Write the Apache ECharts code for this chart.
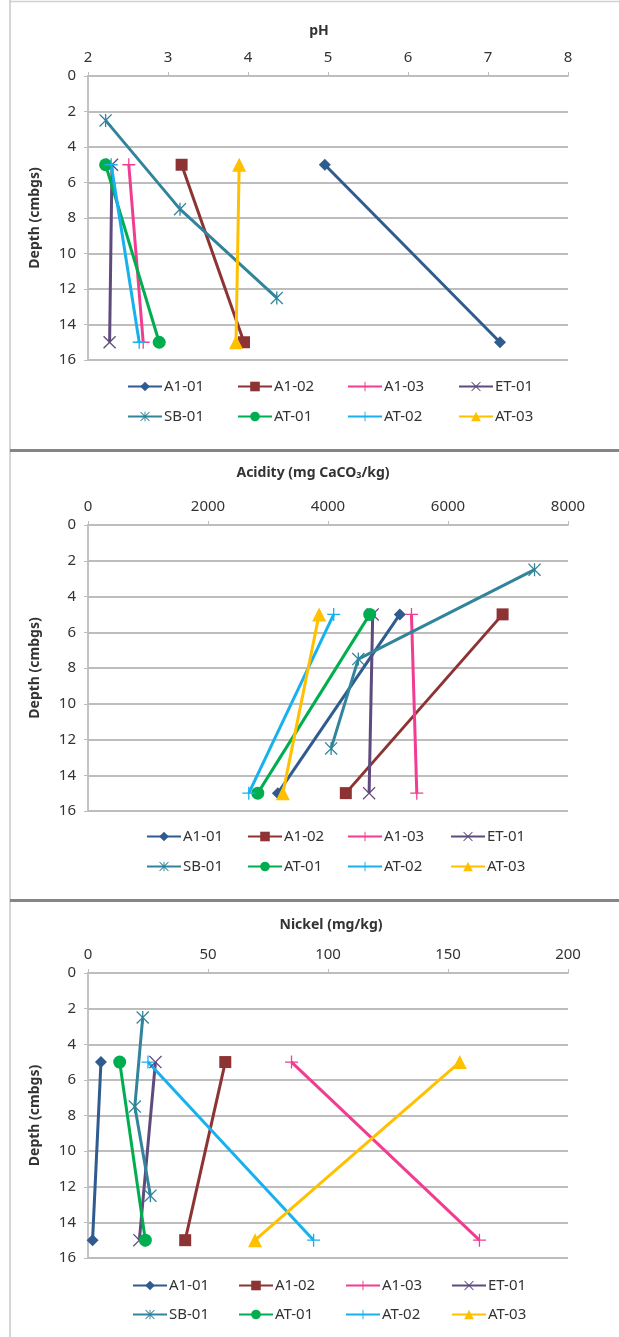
<!DOCTYPE html>
<html>
<head>
<meta charset="utf-8">
<script src="https://cdn.jsdelivr.net/npm/echarts@6/dist/echarts.min.js"></script>
<style>
html,body{margin:0;padding:0;background:#fff;}
#c{width:619px;height:1337px;}
</style>
</head>
<body>
<div id="c"></div>
<script>
// ---- data ----
const seriesNames = ['A1-01','A1-02','A1-03','ET-01','SB-01','AT-01','AT-02','AT-03'];
const depthMain = [5, 15];
const depthSB = [2.5, 7.5, 12.5];
const depthTicks = [0, 2, 4, 6, 8, 10, 12, 14, 16];

// pH values (per series, by depth)
const phValues = [
  [4.96, 7.15],
  [3.17, 3.95],
  [2.51, 2.69],
  [2.30, 2.27],
  [2.22, 3.15, 4.36],
  [2.22, 2.89],
  [2.29, 2.64],
  [3.89, 3.85]
];
// Acidity (mg CaCO3/kg)
const acidityValues = [
  [5197, 3165],
  [6910, 4297],
  [5391, 5480],
  [4745, 4685],
  [7442, 4505, 4052],
  [4695, 2830],
  [4095, 2680],
  [3852, 3248]
];
// Nickel (mg/kg)
const nickelValues = [
  [5.4, 1.9],
  [57.2, 40.5],
  [84.8, 163.1],
  [28.1, 21.4],
  [22.8, 19.5, 26.0],
  [13.2, 23.9],
  [25.0, 94.0],
  [154.9, 69.6]
];

const phTicks = [2, 3, 4, 5, 6, 7, 8];
const acidityTicks = [0, 2000, 4000, 6000, 8000];
const nickelTicks = [0, 50, 100, 150, 200];

const panelTitles = ['pH', 'Acidity (mg CaCO{sub|3}/kg)', 'Nickel (mg/kg)'];
const depthName = 'Depth (cmbgs)';

// ---- styles ----
const colors = ['#2F5B8F','#8E3333','#F23C92','#5F4A7D','#31849B','#00AE4F','#16B1EE','#FFC000'];
const P = 'path://';
const plusPath = P + 'M9,0h2v9h9v2h-9v9h-2v-9h-9v-2h9z';
const xPath = P + 'M1.4,0L10,8.6L18.6,0L20,1.4L11.4,10L20,18.6L18.6,20L10,11.4L1.4,20L0,18.6L8.6,10L0,1.4Z';
const starPath = P + 'M1.4,0L9,7.6V0h2v7.6L18.6,0L20,1.4L11.4,10L20,18.6L18.6,20L11,12.4V20h-2v-7.6L1.4,20L0,18.6L8.6,10L0,1.4Z';
const symbols = ['diamond','rect','plus','x','star','circle','plus','triangle'];
const symbolMap = {diamond:'diamond', rect:'rect', circle:'circle', triangle:'triangle', plus:plusPath, x:xPath, star:starPath};
const symbolSizes = [12, 12, 13, 13, 13, 13, 13, 14];

const FONT = 'Noto Sans';
const txtColor = '#333';
const gridColor = '#BDBDBD';

const panels = [
  {vals: phValues, ticks: phTicks, top: 76, height: 284, titleX: 319, titleY: 31, legendX: [127,237,347,458], legendY: [388,418]},
  {vals: acidityValues, ticks: acidityTicks, top: 525, height: 286, titleX: 313, titleY: 473, legendX: [146,247,347,450], legendY: [838,868]},
  {vals: nickelValues, ticks: nickelTicks, top: 973, height: 285, titleX: 331, titleY: 925, legendX: [132,238,345,451], legendY: [1287,1316]}
];

const grids = [], xAxes = [], yAxes = [], series = [], legends = [], graphics = [];

panels.forEach((p, pi) => {
  grids.push({left: 88, top: p.top, width: 480, height: p.height, containLabel: false});
  const t = p.ticks;
  xAxes.push({
    type: 'value', gridIndex: pi, position: 'top',
    min: t[0], max: t[t.length - 1], interval: t[1] - t[0],
    axisLine: {show: true, onZero: false, lineStyle: {color: gridColor, width: 1.8}},
    axisTick: {show: true, inside: false, length: 4, lineStyle: {color: gridColor, width: 1}},
    axisLabel: {fontFamily: FONT, fontSize: 15, color: txtColor, margin: 11, formatter: v => String(v)},
    splitLine: {show: false}
  });
  yAxes.push({
    type: 'value', gridIndex: pi, inverse: true,
    min: depthTicks[0], max: depthTicks[depthTicks.length - 1], interval: depthTicks[1] - depthTicks[0],
    name: depthName, nameLocation: 'middle', nameGap: 46, nameRotate: 90,
    nameTextStyle: {fontFamily: FONT, fontSize: 14, fontWeight: 'bold', color: txtColor},
    axisLine: {show: true, lineStyle: {color: gridColor, width: 1.8}},
    axisTick: {show: true, length: 4, lineStyle: {color: gridColor, width: 1}},
    axisLabel: {fontFamily: FONT, fontSize: 15, color: txtColor, margin: 12, formatter: v => String(v)},
    splitLine: {show: true, lineStyle: {color: gridColor, width: 1.8}}
  });
  seriesNames.forEach((name, si) => {
    const depths = p.vals[si].length === 3 ? depthSB : depthMain;
    series.push({
      type: 'line', name: name, xAxisIndex: pi, yAxisIndex: pi,
      data: p.vals[si].map((v, k) => [v, depths[k]]),
      symbol: symbolMap[symbols[si]], symbolSize: symbolSizes[si], symbolKeepAspect: true,
      showAllSymbol: true,
      lineStyle: {color: colors[si], width: 3},
      itemStyle: {color: colors[si]},
      emphasis: {disabled: true},
      animation: false
    });
    const row = si < 4 ? 0 : 1;
    const col = si % 4;
    legends.push({
      data: [name], left: p.legendX[col], top: p.legendY[row] - 9,
      padding: 0, itemWidth: 34, itemHeight: 12, itemGap: 0,
      selectedMode: false,
      textStyle: {fontFamily: FONT, fontSize: 15, color: txtColor, padding: [0,0,0,-3]}
    });
  });
  graphics.push({
    type: 'text', x: p.titleX, y: p.titleY,
    style: {
      text: panelTitles[pi], align: 'center', verticalAlign: 'middle',
      fontFamily: FONT, fontSize: 14, fontWeight: 'bold', fill: txtColor,
      rich: {sub: {fontSize: 9, fontWeight: 'bold', fontFamily: FONT, fill: txtColor, verticalAlign: 'bottom', lineHeight: 10, padding: [7,0,0,0]}}
    }
  });
});

// panel frames
graphics.push({type: 'line', shape: {x1: 10, y1: 1.5, x2: 619, y2: 1.5}, style: {stroke: '#D0D0D0', lineWidth: 1.5}});
graphics.push({type: 'line', shape: {x1: 10, y1: 0, x2: 10, y2: 1337}, style: {stroke: '#C8C8C8', lineWidth: 1.5}});
graphics.push({type: 'line', shape: {x1: 10, y1: 450.5, x2: 619, y2: 450.5}, style: {stroke: '#858585', lineWidth: 3}});
graphics.push({type: 'line', shape: {x1: 10, y1: 900.5, x2: 619, y2: 900.5}, style: {stroke: '#858585', lineWidth: 3}});

const chart = echarts.init(document.getElementById('c'), null, {renderer: 'canvas'});
chart.setOption({
  animation: false,
  backgroundColor: '#fff',
  grid: grids, xAxis: xAxes, yAxis: yAxes, series: series, legend: legends,
  graphic: graphics
});
</script>
</body>
</html>
